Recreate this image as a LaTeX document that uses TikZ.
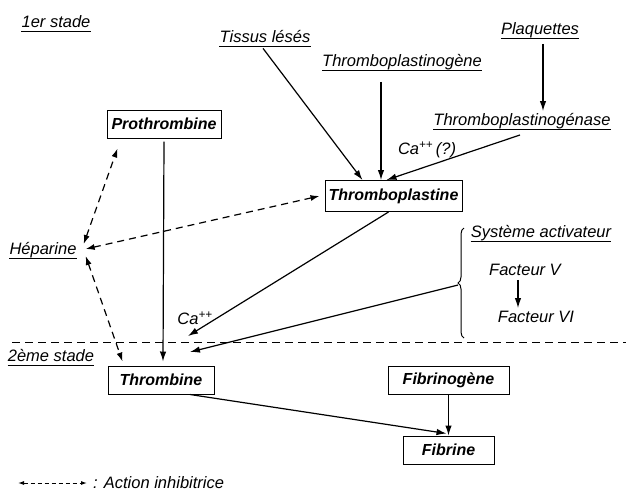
\documentclass[tikz,border=0pt]{standalone}
\usepackage{fontspec}
\setmainfont{Liberation Sans}
\usetikzlibrary{arrows.meta,decorations.pathreplacing}
\begin{document}
\begin{tikzpicture}[x=1pt,y=-1pt,
  lab/.style={inner sep=0pt,font=\fontsize{16.5}{18}\selectfont\itshape},
  boxn/.style={draw,line width=1pt,inner xsep=3pt,minimum height=28pt,font=\fontsize{16}{18}\selectfont\bfseries\itshape},
  uline/.style={line width=1pt},
  arr/.style={line width=1.2pt,-{Latex[length=10pt,width=6.5pt]}},
  inh/.style={line width=1.2pt,dash pattern=on 7pt off 5pt,{Latex[length=9pt,width=6pt]}-{Latex[length=9pt,width=6pt]}},
  divider/.style={line width=1pt,dash pattern=on 8pt off 5pt}]
\useasboundingbox (0,0) rectangle (626,491);

% labels
\node[lab] (stade1) at (56,22) {1er stade};
\node[lab] (tissus) at (265,37) {Tissus lésés};
\node[lab] (tpg) at (402,62) {Thromboplastinogène};
\node[lab] (plaq) at (540,30) {Plaquettes};
\node[lab] (tpgase) at (522,121) {Thromboplastinogénase};
\node[lab] (hep) at (43,250) {Héparine};
\node[lab] (sysact) at (541,233) {Système activateur};
\node[lab] (fv) at (525,270) {Facteur V};
\node[lab] (fvi) at (536,317) {Facteur VI};
\node[lab] (stade2) at (51,356) {2ème stade};
\node[lab] (ca1) at (427,150) {Ca\textsuperscript{++}\,(?)};
\node[lab] (ca2) at (195,318) {Ca\textsuperscript{++}};

\foreach \n in {stade1,tissus,tpg,plaq,tpgase,hep,sysact,stade2}
  \draw[uline] ([yshift=-4pt]\n.base west) -- ([yshift=-4pt]\n.base east);

% boxes
\node[boxn,minimum width=114pt] (proth) at (164,124) {Prothrombine};
\node[boxn,minimum width=137pt,minimum height=31pt] (tp) at (393.5,196) {Thromboplastine};
\node[boxn,minimum width=106pt] (thromb) at (161,380) {Thrombine};
\node[boxn,minimum width=121pt] (fibrinog) at (448.5,380) {Fibrinogène};
\node[boxn,minimum width=91pt] (fibrine) at (448.5,450) {Fibrine};

% dividing line
\coordinate (divL) at (12,342);
\coordinate (divR) at (626,342);
\draw[divider] (divL) -- (divR);

% brace
\coordinate (brB) at (464,338);
\coordinate (brT) at (464,228);
\draw[line width=1pt,decorate,decoration={brace,amplitude=6pt}] (brB) -- (brT);
\coordinate (brtip) at (458,285);

% free ends above Thrombine
\coordinate (endca) at (188,336);
\coordinate (endsys) at (190,352);

% arrows 1st stage
\draw[arr] ([xshift=-2pt,yshift=-5pt]tissus.south) -- ([xshift=-31pt]tp.north);
\draw[arr] ([xshift=-21pt,yshift=-12pt]tpg.south) -- ([xshift=-12.5pt]tp.north);
\draw[arr] ([xshift=3pt,yshift=-6pt]plaq.south) -- ([xshift=21pt,yshift=2pt]tpgase.north);
\draw[arr] ([xshift=-2pt,yshift=-6pt]tpgase.south) -- ([xshift=-7pt]tp.north);
\draw[arr] ([yshift=-3pt]proth.south) -- ([xshift=2pt,yshift=4pt]thromb.north);
\draw[arr] ([xshift=-5pt]tp.south) -- (endca);
\draw[arr] (brtip) -- (endsys);
\draw[arr] ([xshift=-7pt,yshift=-4pt]fv.south) -- ([xshift=-18pt,yshift=3pt]fvi.north);

% inhibitory actions
\draw[inh] ([xshift=7pt,yshift=-2pt]hep.north east) -- ([xshift=11pt,yshift=-10pt]proth.south west);
\draw[inh] ([xshift=9pt,yshift=1pt]hep.east) -- ([xshift=-5pt]tp.west);
\draw[inh] ([xshift=9pt,yshift=-6pt]hep.east) -- ([xshift=15pt,yshift=4pt]thromb.north west);

% 2nd stage
\draw[arr] ([xshift=29pt]thromb.south) -- ([xshift=-2pt,yshift=2pt]fibrine.north);
\draw[arr] (fibrinog.south) -- (fibrinog.south |- fibrine.north);

% legend
\coordinate (legA) at (18,483);
\coordinate (legB) at (87,483);
\draw[line width=1pt,dash pattern=on 4pt off 3pt,{Latex[length=6pt,width=4pt]}-{Latex[length=6pt,width=4pt]}] (legA) -- (legB);
\node[lab,anchor=west] (legtxt) at (93,483) {: Action inhibitrice};
\end{tikzpicture}
\end{document}
